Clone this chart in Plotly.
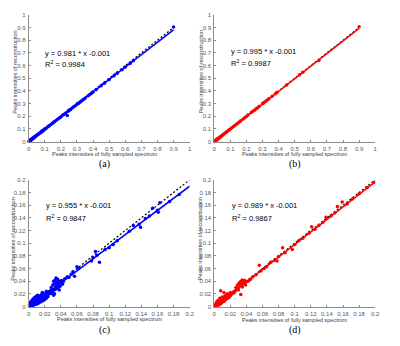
import plotly.graph_objects as go

# page body has an 8px default margin; the figure is sized to fit the 400x346 window
OFF = 8
W, H = 384, 330

# ---------------- data ----------------
xa = [0.002,0.004,0.005,0.006,0.008,0.009,0.010,0.012,0.013,0.015,0.016,0.018,0.020,0.021,0.023,0.025,0.027,0.030,0.032,0.035,0.038,0.040,0.043,0.046,0.050,0.053,0.057,0.060,0.065,0.070,0.075,0.080,0.083,0.086,0.090,0.095,0.100,0.105,0.110,0.120,0.125,0.130,0.140,0.150,0.155,0.160,0.170,0.180,0.190,0.200,0.210,0.220,0.230,0.240,0.245,0.250,0.255,0.260,0.270,0.280,0.290,0.300,0.305,0.310,0.320,0.330,0.340,0.350,0.370,0.380,0.390,0.400,0.420,0.450,0.470,0.500,0.530,0.550,0.580,0.600,0.630,0.650,0.900]
ya = [0.001,0.003,0.006,0.004,0.009,0.007,0.012,0.010,0.015,0.013,0.017,0.016,0.021,0.019,0.024,0.023,0.028,0.029,0.030,0.036,0.036,0.041,0.041,0.046,0.048,0.053,0.055,0.058,0.064,0.068,0.073,0.080,0.078,0.088,0.086,0.093,0.099,0.102,0.108,0.117,0.123,0.127,0.137,0.146,0.153,0.156,0.166,0.176,0.186,0.195,0.207,0.215,0.226,0.205,0.240,0.247,0.250,0.253,0.266,0.275,0.283,0.295,0.300,0.302,0.313,0.323,0.332,0.343,0.362,0.372,0.382,0.392,0.412,0.440,0.460,0.490,0.519,0.539,0.568,0.588,0.617,0.638,0.905]

xb = [0.002,0.004,0.005,0.007,0.008,0.010,0.011,0.013,0.015,0.017,0.019,0.020,0.022,0.025,0.027,0.030,0.033,0.035,0.038,0.040,0.045,0.050,0.055,0.060,0.070,0.075,0.080,0.090,0.095,0.100,0.110,0.120,0.130,0.140,0.150,0.160,0.165,0.180,0.190,0.200,0.210,0.230,0.240,0.250,0.260,0.270,0.280,0.300,0.305,0.310,0.320,0.330,0.340,0.360,0.380,0.390,0.450,0.530,0.550,0.650,0.900]
yb = [0.001,0.003,0.005,0.006,0.008,0.009,0.011,0.012,0.015,0.016,0.019,0.019,0.022,0.024,0.027,0.029,0.033,0.034,0.038,0.039,0.044,0.049,0.055,0.059,0.069,0.074,0.079,0.089,0.094,0.099,0.109,0.119,0.129,0.139,0.149,0.159,0.164,0.179,0.189,0.199,0.209,0.229,0.239,0.248,0.259,0.268,0.279,0.298,0.305,0.309,0.319,0.328,0.339,0.358,0.378,0.389,0.447,0.528,0.548,0.641,0.907]

xc_cluster = [0.001,0.001,0.002,0.002,0.002,0.003,0.003,0.003,0.004,0.004,0.004,0.005,0.005,0.005,0.006,0.006,0.006,0.007,0.007,0.007,0.008,0.008,0.008,0.009,0.009,0.009,0.010,0.010,0.010,0.011,0.011,0.011,0.012,0.012,0.012,0.013,0.013,0.014,0.014,0.015,0.015,0.016,0.016,0.017,0.017,0.018,0.018,0.019,0.020,0.020,0.021,0.022,0.022,0.023,0.024,0.025,0.026,0.027,0.028,0.030]
yc_cluster = [0.000,0.003,0.001,0.004,0.006,0.002,0.005,0.008,0.001,0.004,0.009,0.003,0.006,0.011,0.002,0.007,0.012,0.004,0.008,0.014,0.003,0.007,0.013,0.005,0.010,0.016,0.004,0.008,0.014,0.006,0.011,0.018,0.005,0.010,0.016,0.008,0.014,0.009,0.017,0.007,0.013,0.010,0.019,0.012,0.022,0.009,0.016,0.014,0.011,0.020,0.017,0.013,0.024,0.019,0.016,0.022,0.020,0.025,0.021,0.026]
xc_blob = [0.028,0.030,0.031,0.032,0.033,0.034,0.035,0.036,0.037,0.038,0.039,0.040,0.041,0.042,0.043,0.030,0.033,0.036,0.032,0.035,0.038,0.034,0.037,0.029,0.031]
yc_blob = [0.030,0.034,0.040,0.036,0.042,0.030,0.038,0.043,0.035,0.040,0.032,0.037,0.041,0.035,0.039,0.024,0.027,0.029,0.020,0.033,0.026,0.045,0.031,0.022,0.018]
xc_sparse = [0.045,0.048,0.050,0.053,0.055,0.057,0.060,0.062,0.078,0.080,0.083,0.085,0.088,0.095,0.100,0.105,0.110,0.125,0.130,0.137,0.139,0.145,0.150,0.154,0.160,0.161,0.163,0.175,0.187]
yc_sparse = [0.044,0.047,0.046,0.051,0.055,0.048,0.063,0.060,0.072,0.077,0.087,0.081,0.070,0.090,0.093,0.098,0.104,0.119,0.128,0.130,0.125,0.139,0.143,0.155,0.152,0.149,0.164,0.166,0.177]

xd_cluster = [0.001,0.001,0.002,0.002,0.003,0.003,0.003,0.004,0.004,0.005,0.005,0.005,0.006,0.006,0.007,0.007,0.007,0.008,0.008,0.008,0.009,0.009,0.010,0.010,0.010,0.011,0.011,0.012,0.012,0.013,0.013,0.014,0.014,0.015,0.015,0.016,0.016,0.017,0.018,0.018,0.019,0.020,0.020,0.021,0.022,0.023,0.024,0.025,0.026,0.028,0.008,0.012,0.033]
yd_cluster = [0.000,0.002,0.001,0.004,0.002,0.005,0.007,0.003,0.008,0.002,0.006,0.010,0.004,0.009,0.005,0.010,0.013,0.004,0.008,0.012,0.006,0.011,0.007,0.012,0.015,0.009,0.014,0.008,0.013,0.010,0.016,0.011,0.017,0.012,0.018,0.013,0.020,0.015,0.014,0.019,0.016,0.017,0.022,0.019,0.020,0.021,0.023,0.022,0.025,0.027,0.025,0.022,0.019]
xd_blob = [0.027,0.029,0.030,0.031,0.032,0.033,0.034,0.035,0.036,0.037,0.038,0.040,0.042,0.044,0.030,0.035,0.039]
yd_blob = [0.030,0.034,0.029,0.037,0.033,0.040,0.035,0.042,0.038,0.036,0.041,0.039,0.040,0.042,0.026,0.031,0.034]
xd_sparse = [0.045,0.048,0.052,0.056,0.058,0.062,0.065,0.070,0.075,0.078,0.080,0.085,0.088,0.097,0.100,0.105,0.110,0.118,0.121,0.125,0.130,0.135,0.139,0.145,0.150,0.153,0.159,0.165,0.172,0.180,0.190,0.198]
yd_sparse = [0.043,0.047,0.050,0.065,0.056,0.060,0.063,0.070,0.073,0.072,0.079,0.093,0.085,0.090,0.098,0.104,0.108,0.116,0.126,0.122,0.128,0.133,0.141,0.143,0.148,0.158,0.165,0.162,0.170,0.178,0.188,0.196]

slopes = [0.981, 0.995, 0.955, 0.989]
intercepts = [-0.001, -0.001, -0.001, -0.001]
r2 = ["0.9984", "0.9987", "0.9847", "0.9867"]
fit_xmax = [0.9, 0.9, 0.2, 0.2]
panel_labels = ["(a)", "(b)", "(c)", "(d)"]
colors = ["rgb(0,0,255)", "rgb(255,0,0)", "rgb(0,0,255)", "rgb(255,0,0)"]

ticks_big = [0, 0.1, 0.2, 0.3, 0.4, 0.5, 0.6, 0.7, 0.8, 0.9, 1]
ticks_big_text = ["0", "0.1", "0.2", "0.3", "0.4", "0.5", "0.6", "0.7", "0.8", "0.9", "1"]
ticks_small = [0, 0.02, 0.04, 0.06, 0.08, 0.1, 0.12, 0.14, 0.16, 0.18, 0.2]
ticks_small_text = ["0", "0.02", "0.04", "0.06", "0.08", "0.1", "0.12", "0.14", "0.16", "0.18", "0.2"]

xlabel = "Peaks intensities of fully sampled spectrum"
ylabel = "Peaks intensities of reconstruction"

xs = [xa, xb, xc_cluster + xc_blob + xc_sparse, xd_cluster + xd_blob + xd_sparse]
ys = [ya, yb, yc_cluster + yc_blob + yc_sparse, yd_cluster + yd_blob + yd_sparse]

# ---------------- layout geometry (window pixels) ----------------
def px(x):
    return (x - OFF) / W

def py(y):
    return 1 - (y - OFF) / H

boxes = [(27, 191, 12, 141), (216, 380, 12, 141), (27, 191, 180, 309), (216, 380, 180, 309)]
ranges = [[0, 1], [0, 1], [0, 0.2], [0, 0.2]]
tv = [ticks_big, ticks_big, ticks_small, ticks_small]
tt = [ticks_big_text, ticks_big_text, ticks_small_text, ticks_small_text]
eq_pos = [(42, 51, 62), (231, 49, 61), (43, 206, 218.5), (232, 206, 218.5)]
xt_pos = [(105, 154), (298, 154), (110, 322), (298, 322.5)]
yt_pos = [(13, 70), (202, 70), (11, 240), (201, 240)]
lab_pos = [(104, 164), (298, 164), (104, 333), (298, 333)]

fig = go.Figure()
axis_color = "rgb(140,140,140)"
tick_font = dict(family="Liberation Sans", size=6, color="rgb(90,90,90)")

annotations = []
for i in range(4):
    sfx = "" if i == 0 else str(i + 1)
    xref = "x" + sfx
    yref = "y" + sfx
    xm = fit_xmax[i]
    fig.add_trace(go.Scatter(x=[0, xm], y=[0, xm], mode="lines", xaxis=xref, yaxis=yref,
                             line=dict(color="black", width=1.2, dash="2px,2px"),
                             showlegend=False, hoverinfo="skip"))
    fig.add_trace(go.Scatter(x=xs[i], y=ys[i], mode="markers", xaxis=xref, yaxis=yref,
                             marker=dict(color=colors[i], size=3.5, line=dict(width=0)),
                             cliponaxis=False, showlegend=False))
    fx = [0, xm]
    fy = [slopes[i] * v + intercepts[i] for v in fx]
    fig.add_trace(go.Scatter(x=fx, y=fy, mode="lines", xaxis=xref, yaxis=yref,
                             line=dict(color=colors[i], width=1.5),
                             cliponaxis=False, showlegend=False, hoverinfo="skip"))

    l, r, t, b = boxes[i]
    common = dict(showgrid=False, zeroline=False, showline=True, linecolor=axis_color,
                  linewidth=0.8, ticks="inside", ticklen=2, tickcolor=axis_color,
                  tickfont=tick_font, range=ranges[i], tickmode="array",
                  tickvals=tv[i], ticktext=tt[i], fixedrange=True)
    fig.layout["xaxis" + sfx] = dict(domain=[px(l), px(r)], anchor=yref, ticklabelstandoff=1, **common)
    fig.layout["yaxis" + sfx] = dict(domain=[py(b), py(t)], anchor=xref, ticklabelstandoff=1, **common)

    ex, ey1, ey2 = eq_pos[i]
    s = slopes[i]
    annotations.append(dict(x=px(ex), y=py(ey1), xref="paper", yref="paper",
                            text=f"y = {s:.3f} * x {intercepts[i]:.3f}", showarrow=False,
                            xanchor="left", yanchor="middle",
                            font=dict(family="Liberation Sans", size=7.5, color="black")))
    annotations.append(dict(x=px(ex), y=py(ey2), xref="paper", yref="paper",
                            text=f"R<sup>2</sup> = {r2[i]}", showarrow=False,
                            xanchor="left", yanchor="middle",
                            font=dict(family="Liberation Sans", size=7.5, color="black")))
    tx, ty = xt_pos[i]
    annotations.append(dict(x=px(tx), y=py(ty), xref="paper", yref="paper", text=xlabel,
                            showarrow=False, xanchor="center", yanchor="middle",
                            font=dict(family="Liberation Sans", size=5.5, color="rgb(60,60,60)")))
    yx, yy = yt_pos[i]
    annotations.append(dict(x=px(yx), y=py(yy), xref="paper", yref="paper", text=ylabel,
                            showarrow=False, xanchor="center", yanchor="middle", textangle=-90,
                            font=dict(family="Liberation Sans", size=5.5, color="rgb(60,60,60)")))
    lx, ly = lab_pos[i]
    annotations.append(dict(x=px(lx), y=py(ly), xref="paper", yref="paper", text=panel_labels[i],
                            showarrow=False, xanchor="center", yanchor="middle",
                            font=dict(family="Liberation Serif", size=10, color="black")))

fig.update_layout(width=W, height=H, margin=dict(l=0, r=0, t=0, b=0),
                  paper_bgcolor="white", plot_bgcolor="white",
                  annotations=annotations, showlegend=False)

fig.write_html("out.html", config={"displayModeBar": False})
